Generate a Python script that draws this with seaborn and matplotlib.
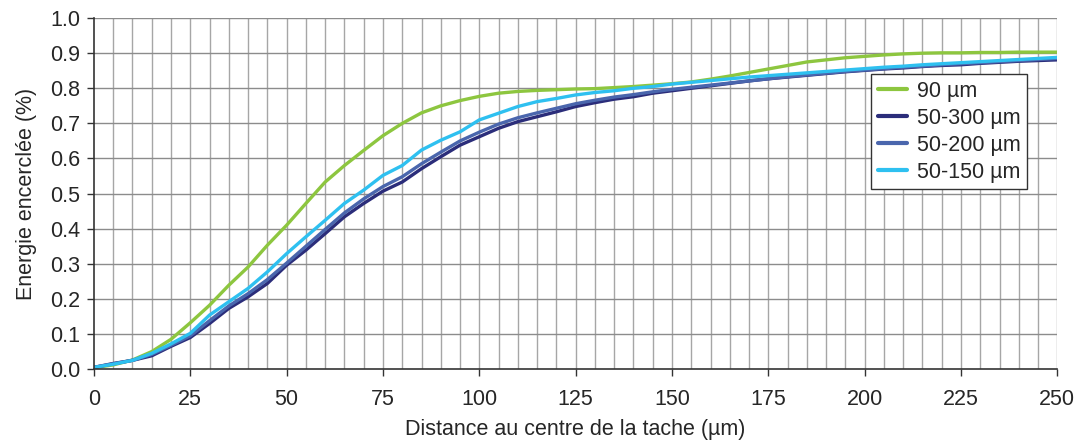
import matplotlib
matplotlib.use("Agg")
import matplotlib.pyplot as plt
import numpy as np
import pandas as pd
import seaborn as sns

# distance (µm), one sample every 5 µm
distance = list(range(0, 255, 5))

e_90 = [0.004, 0.012, 0.026, 0.050, 0.085, 0.132, 0.182, 0.239, 0.291, 0.353,
        0.410, 0.472, 0.533, 0.580, 0.623, 0.665, 0.700, 0.730, 0.750, 0.765,
        0.777, 0.786, 0.791, 0.794, 0.796, 0.798, 0.799, 0.802, 0.805, 0.809,
        0.813, 0.818, 0.826, 0.835, 0.845, 0.855, 0.865, 0.875, 0.881, 0.887,
        0.891, 0.895, 0.898, 0.900, 0.901, 0.901, 0.902, 0.902, 0.903, 0.903,
        0.903]
e_50_300 = [0.005, 0.016, 0.025, 0.038, 0.065, 0.090, 0.130, 0.173, 0.206, 0.244,
            0.296, 0.339, 0.386, 0.434, 0.472, 0.507, 0.533, 0.571, 0.605, 0.638,
            0.662, 0.686, 0.705, 0.719, 0.733, 0.748, 0.759, 0.769, 0.776, 0.786,
            0.793, 0.800, 0.807, 0.814, 0.821, 0.827, 0.832, 0.837, 0.842, 0.847,
            0.851, 0.855, 0.858, 0.862, 0.865, 0.867, 0.871, 0.874, 0.877, 0.879,
            0.881]
e_50_200 = [0.005, 0.015, 0.025, 0.042, 0.068, 0.095, 0.138, 0.180, 0.215, 0.255,
            0.302, 0.350, 0.398, 0.445, 0.485, 0.520, 0.548, 0.585, 0.618, 0.650,
            0.675, 0.698, 0.716, 0.730, 0.743, 0.756, 0.766, 0.775, 0.782, 0.790,
            0.797, 0.803, 0.809, 0.815, 0.821, 0.827, 0.833, 0.838, 0.843, 0.848,
            0.852, 0.856, 0.860, 0.863, 0.867, 0.870, 0.873, 0.876, 0.879, 0.882,
            0.885]
e_50_150 = [0.005, 0.014, 0.025, 0.045, 0.072, 0.102, 0.154, 0.192, 0.230, 0.277,
            0.329, 0.377, 0.424, 0.472, 0.510, 0.552, 0.580, 0.624, 0.652, 0.676,
            0.710, 0.729, 0.748, 0.762, 0.771, 0.781, 0.788, 0.793, 0.800, 0.805,
            0.812, 0.817, 0.822, 0.827, 0.832, 0.836, 0.840, 0.844, 0.848, 0.852,
            0.856, 0.860, 0.863, 0.867, 0.870, 0.873, 0.876, 0.879, 0.882, 0.885,
            0.888]

series_names = ["90 µm", "50-300 µm", "50-200 µm", "50-150 µm"]
series_values = [e_90, e_50_300, e_50_200, e_50_150]
colors = ["#8dc63f", "#2b2d7a", "#4a66ad", "#2ec0f0"]

df = pd.concat(
    [pd.DataFrame({"distance": distance, "energie": vals, "serie": name})
     for name, vals in zip(series_names, series_values)],
    ignore_index=True,
)

sns.set_style("white")
plt.rcParams["font.family"] = ["Liberation Sans", "DejaVu Sans"]

FS = 15.5

fig = plt.figure(figsize=(10.8, 4.41), dpi=100)
ax = fig.add_axes([0.087, 0.163, 0.892, 0.796])

# grid every 5 µm / 0.1
for xv in np.arange(5, 255, 5):
    ax.axvline(xv, color="#a6a6a6", linewidth=1.0, zorder=0)
for yv in np.arange(0.1, 1.05, 0.1):
    ax.axhline(yv, color="#8c8c8c", linewidth=1.0, zorder=0)

sns.lineplot(
    data=df, x="distance", y="energie", hue="serie",
    hue_order=series_names, palette=colors,
    linewidth=2.4, ax=ax, sort=False, legend=True,
)

ax.set_xlim(0, 250)
ax.set_ylim(0, 1.0)
ax.set_xticks(np.arange(0, 251, 25))
ax.set_yticks(np.arange(0, 1.01, 0.1))
ax.set_yticklabels([f"{v:.1f}" for v in np.arange(0, 1.01, 0.1)])
ax.tick_params(axis="both", direction="out", length=5, width=1, color="#333333",
               labelsize=FS, left=True, bottom=True)
ax.tick_params(axis="x", pad=9)
ax.tick_params(axis="y", pad=5)

for side in ["top", "right"]:
    ax.spines[side].set_visible(False)
for side in ["left", "bottom"]:
    ax.spines[side].set_color("#333333")
    ax.spines[side].set_linewidth(1.2)

ax.set_xlabel("Distance au centre de la tache (µm)", fontsize=FS, labelpad=7)
ax.set_ylabel("Energie encerclée (%)", fontsize=FS, labelpad=9)

leg = ax.legend(
    loc="upper left", bbox_to_anchor=(0.807, 0.84), fontsize=FS,
    frameon=True, fancybox=False, framealpha=1, edgecolor="#333333",
    handlelength=1.35, handletextpad=0.45, borderpad=0.3, labelspacing=0.28,
    borderaxespad=0,
)
leg.get_frame().set_linewidth(1.0)
for line in leg.get_lines():
    line.set_linewidth(3)

fig.savefig("out.png", dpi=100)
